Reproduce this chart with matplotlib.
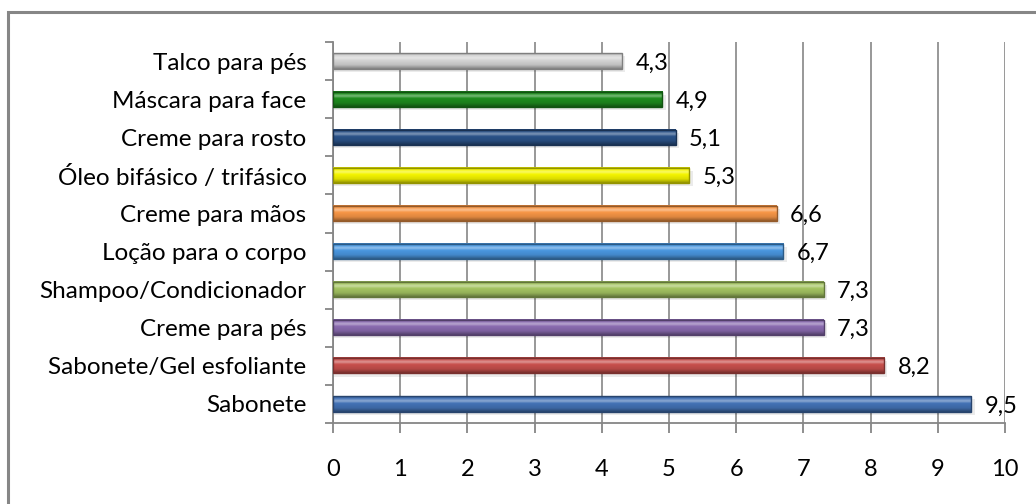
import numpy as np
import matplotlib
matplotlib.use("Agg")
import matplotlib.pyplot as plt
import matplotlib.colors as mcolors
from matplotlib.patches import Rectangle

# produtos (de baixo para cima) e valores
produtos = ["Sabonete", "Sabonete/Gel esfoliante", "Creme para pés",
            "Shampoo/Condicionador", "Loção para o corpo", "Creme para mãos",
            "Óleo bifásico / trifásico", "Creme para rosto", "Máscara para face",
            "Talco para pés"]
valores = [9.5, 8.2, 7.3, 7.3, 6.7, 6.6, 5.3, 5.1, 4.9, 4.3]
cores = ["#4372b5", "#c8504d", "#8a6bb0", "#a4c462", "#4a97e0", "#f79646",
         "#f5f500", "#2a5288", "#1e8c1e", "#d4d4d4"]
ticks_x = list(range(0, 11))

plt.rcParams['font.family'] = ['Lato', 'DejaVu Sans']

fig = plt.figure(figsize=(10.36, 5.04), dpi=100)
ax = fig.add_axes([333/1036, 1 - 423/504, (1005 - 333)/1036, (423 - 42)/504])

# moldura cinza
fig.patches.append(Rectangle((8/1036, -0.1), 1.2, 1 - 12/504 + 0.1,
                             transform=fig.transFigure, fill=False,
                             edgecolor="#868686", lw=2.2, zorder=0))

altura = 0.4


def gradiente(cor):
    base = np.array(mcolors.to_rgb(cor))
    branco = np.ones(3)
    # de cima para baixo
    paradas = [(0.0, base * 0.75), (0.12, base), (0.3, base * 0.6 + branco * 0.4),
               (0.45, base), (0.75, base * 0.9), (1.0, base * 0.6)]
    n = 40
    t = np.linspace(0, 1, n)
    img = np.zeros((n, 1, 3))
    for c in range(3):
        img[:, 0, c] = np.interp(t, [p[0] for p in paradas], [p[1][c] for p in paradas])
    return np.clip(img, 0, 1)


for i, (v, c) in enumerate(zip(valores, cores)):
    # sombra
    ax.add_patch(Rectangle((0, i - altura / 2 - 0.08), v + 0.05, altura,
                           facecolor="#000000", alpha=0.08, lw=0, zorder=2))
    ax.imshow(gradiente(c), extent=(0, v, i - altura / 2, i + altura / 2),
              aspect="auto", interpolation="bilinear", zorder=3)
    ax.add_patch(Rectangle((0, i - altura / 2), v, altura, fill=False,
                           edgecolor=np.array(mcolors.to_rgb(c)) * 0.6, lw=1, zorder=4))
    ax.text(v + 0.2, i - 0.05, f"{v:.1f}".replace(".", ","), va="center",
            ha="left", fontsize=17, zorder=5)

ax.set_xlim(0, 10)
ax.set_ylim(-0.5, len(produtos) - 0.5)
ax.set_xticks(ticks_x)
ax.set_yticks(np.arange(-0.5, len(produtos), 1.0))
ax.set_yticklabels([])
ax.set_yticks(range(len(produtos)), minor=True)
ax.set_yticklabels(produtos, minor=True)
ax.tick_params(axis="y", which="minor", length=0, pad=19, labelsize=17.5)
ax.tick_params(axis="y", which="major", length=6, color="#868686", width=1.3)
ax.tick_params(axis="x", length=7, color="#868686", width=1.3, pad=19, labelsize=17)
ax.grid(axis="x", color="#868686", lw=1.2, zorder=1)
ax.set_axisbelow(True)
for s in ["top", "right"]:
    ax.spines[s].set_visible(False)
for s in ["left", "bottom"]:
    ax.spines[s].set_color("#868686")
    ax.spines[s].set_linewidth(1.3)

fig.savefig("out.png", dpi=100)
